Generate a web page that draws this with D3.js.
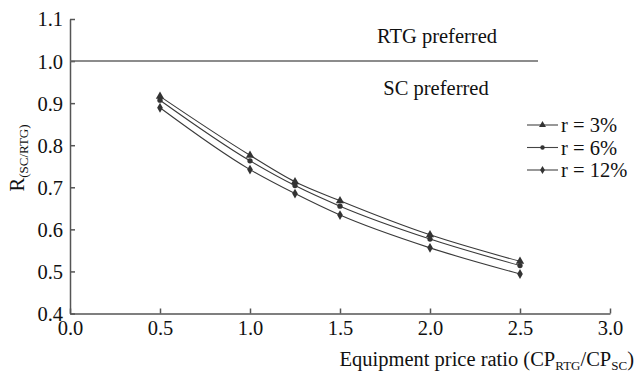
<!DOCTYPE html>
<html>
<head>
<meta charset="utf-8">
<script src="https://cdn.jsdelivr.net/npm/d3@7"></script>
<style>
  body { margin: 0; background: #fff; }
  text { font-family: "Liberation Serif", "DejaVu Serif", serif; fill: #111; }
</style>
</head>
<body>
<div class="graph"></div>
<script>
var xs = [0.5, 1.0, 1.25, 1.5, 2.0, 2.5];
var r3 = [0.916, 0.776, 0.713, 0.668, 0.587, 0.524];
var r6 = [0.907, 0.763, 0.704, 0.655, 0.577, 0.514];
var r12 = [0.889, 0.742, 0.685, 0.634, 0.556, 0.494];
var seriesNames = ["r = 3%", "r = 6%", "r = 12%"];
var xTicks = [0, 0.5, 1, 1.5, 2, 2.5, 3];
var yTicks = [0.4, 0.5, 0.6, 0.7, 0.8, 0.9, 1.0, 1.1];
var threshold = 1.0;
var thresholdEnd = 2.6;

var loadChart = function () {
    const WIDTH = 637;
    const HEIGHT = 376;
    const FS = "20.5px";
    const SUB = "13px";

    var x = d3.scaleLinear().domain([0, 3]).range([70, 610]);
    var y = d3.scaleLinear().domain([0.4, 1.1]).range([313.5, 19]);

    var svg = d3.select(".graph").append("svg")
        .attr("width", WIDTH)
        .attr("height", HEIGHT);

    // axes, ticks pointing inwards
    var xAxis = d3.axisBottom(x).tickValues(xTicks).tickSizeInner(-5).tickSizeOuter(0)
        .tickFormat(d3.format(".1f")).tickPadding(8);
    var gx = svg.append("g")
        .attr("transform", "translate(0," + y(0.4) + ")")
        .call(xAxis);

    var yAxis = d3.axisLeft(y).tickValues(yTicks).tickSizeInner(-5).tickSizeOuter(0)
        .tickFormat(d3.format(".1f")).tickPadding(7);
    var gy = svg.append("g")
        .attr("transform", "translate(" + x(0) + ",0)")
        .call(yAxis);

    [gx, gy].forEach(function (g) {
        g.selectAll("path, line").attr("stroke", "#555").attr("stroke-width", 1.5);
        g.selectAll("text").style("font-family", "Liberation Serif").style("font-size", FS).attr("fill", "#111");
    });
    gy.selectAll("text").attr("dy", "0.34em");
    gx.selectAll("text").attr("dy", "0.68em");

    // threshold line
    svg.append("line")
        .attr("x1", x(0)).attr("x2", x(thresholdEnd))
        .attr("y1", y(threshold)).attr("y2", y(threshold))
        .attr("stroke", "#666").attr("stroke-width", 1.5);

    svg.append("text").attr("x", 437).attr("y", 43)
        .attr("text-anchor", "middle").style("font-size", FS).text("RTG preferred");
    svg.append("text").attr("x", 436).attr("y", 95)
        .attr("text-anchor", "middle").style("font-size", FS).text("SC preferred");

    // series
    var all = [r3, r6, r12];
    var shapes = [d3.symbolTriangle, d3.symbolCircle, d3.symbolDiamond];
    var sizes = [30, 22, 28];
    var line = d3.line()
        .x(function (d, i) { return x(xs[i]); })
        .y(function (d) { return y(d); })
        .curve(d3.curveMonotoneX);

    all.forEach(function (vals, k) {
        svg.append("path")
            .attr("d", line(vals))
            .attr("fill", "none")
            .attr("stroke", "#3a3a3a")
            .attr("stroke-width", 1.1);

        svg.selectAll(".m" + k)
            .data(vals)
            .enter().append("path")
            .attr("class", "m" + k)
            .attr("transform", function (d, i) { return "translate(" + x(xs[i]) + "," + y(d) + ")"; })
            .attr("d", d3.symbol().type(shapes[k]).size(sizes[k]))
            .attr("fill", "#333");
    });

    // legend
    seriesNames.forEach(function (name, k) {
        var ly = 125 + k * 22.5;
        svg.append("line")
            .attr("x1", 527).attr("x2", 558)
            .attr("y1", ly).attr("y2", ly)
            .attr("stroke", "#444").attr("stroke-width", 1.1);
        svg.append("path")
            .attr("transform", "translate(542.5," + ly + ")")
            .attr("d", d3.symbol().type(shapes[k]).size(sizes[k] * 0.7))
            .attr("fill", "#333");
        svg.append("text")
            .attr("x", 561).attr("y", ly + 7)
            .style("font-size", FS)
            .text(name);
    });

    // axis titles
    var yl = svg.append("text")
        .attr("transform", "translate(24,158) rotate(-90)")
        .attr("text-anchor", "middle")
        .style("font-size", FS);
    yl.append("tspan").text("R");
    yl.append("tspan").attr("dy", 4).style("font-size", SUB).text("(SC/RTG)");

    var xl = svg.append("text")
        .attr("x", 634).attr("y", 366)
        .attr("text-anchor", "end")
        .style("font-size", FS);
    xl.append("tspan").text("Equipment price ratio (CP");
    xl.append("tspan").attr("dy", 4).style("font-size", SUB).text("RTG");
    xl.append("tspan").attr("dy", -4).text("/CP");
    xl.append("tspan").attr("dy", 4).style("font-size", SUB).text("SC");
    xl.append("tspan").attr("dy", -4).text(")");
};

window.onload = loadChart();
</script>
</body>
</html>
